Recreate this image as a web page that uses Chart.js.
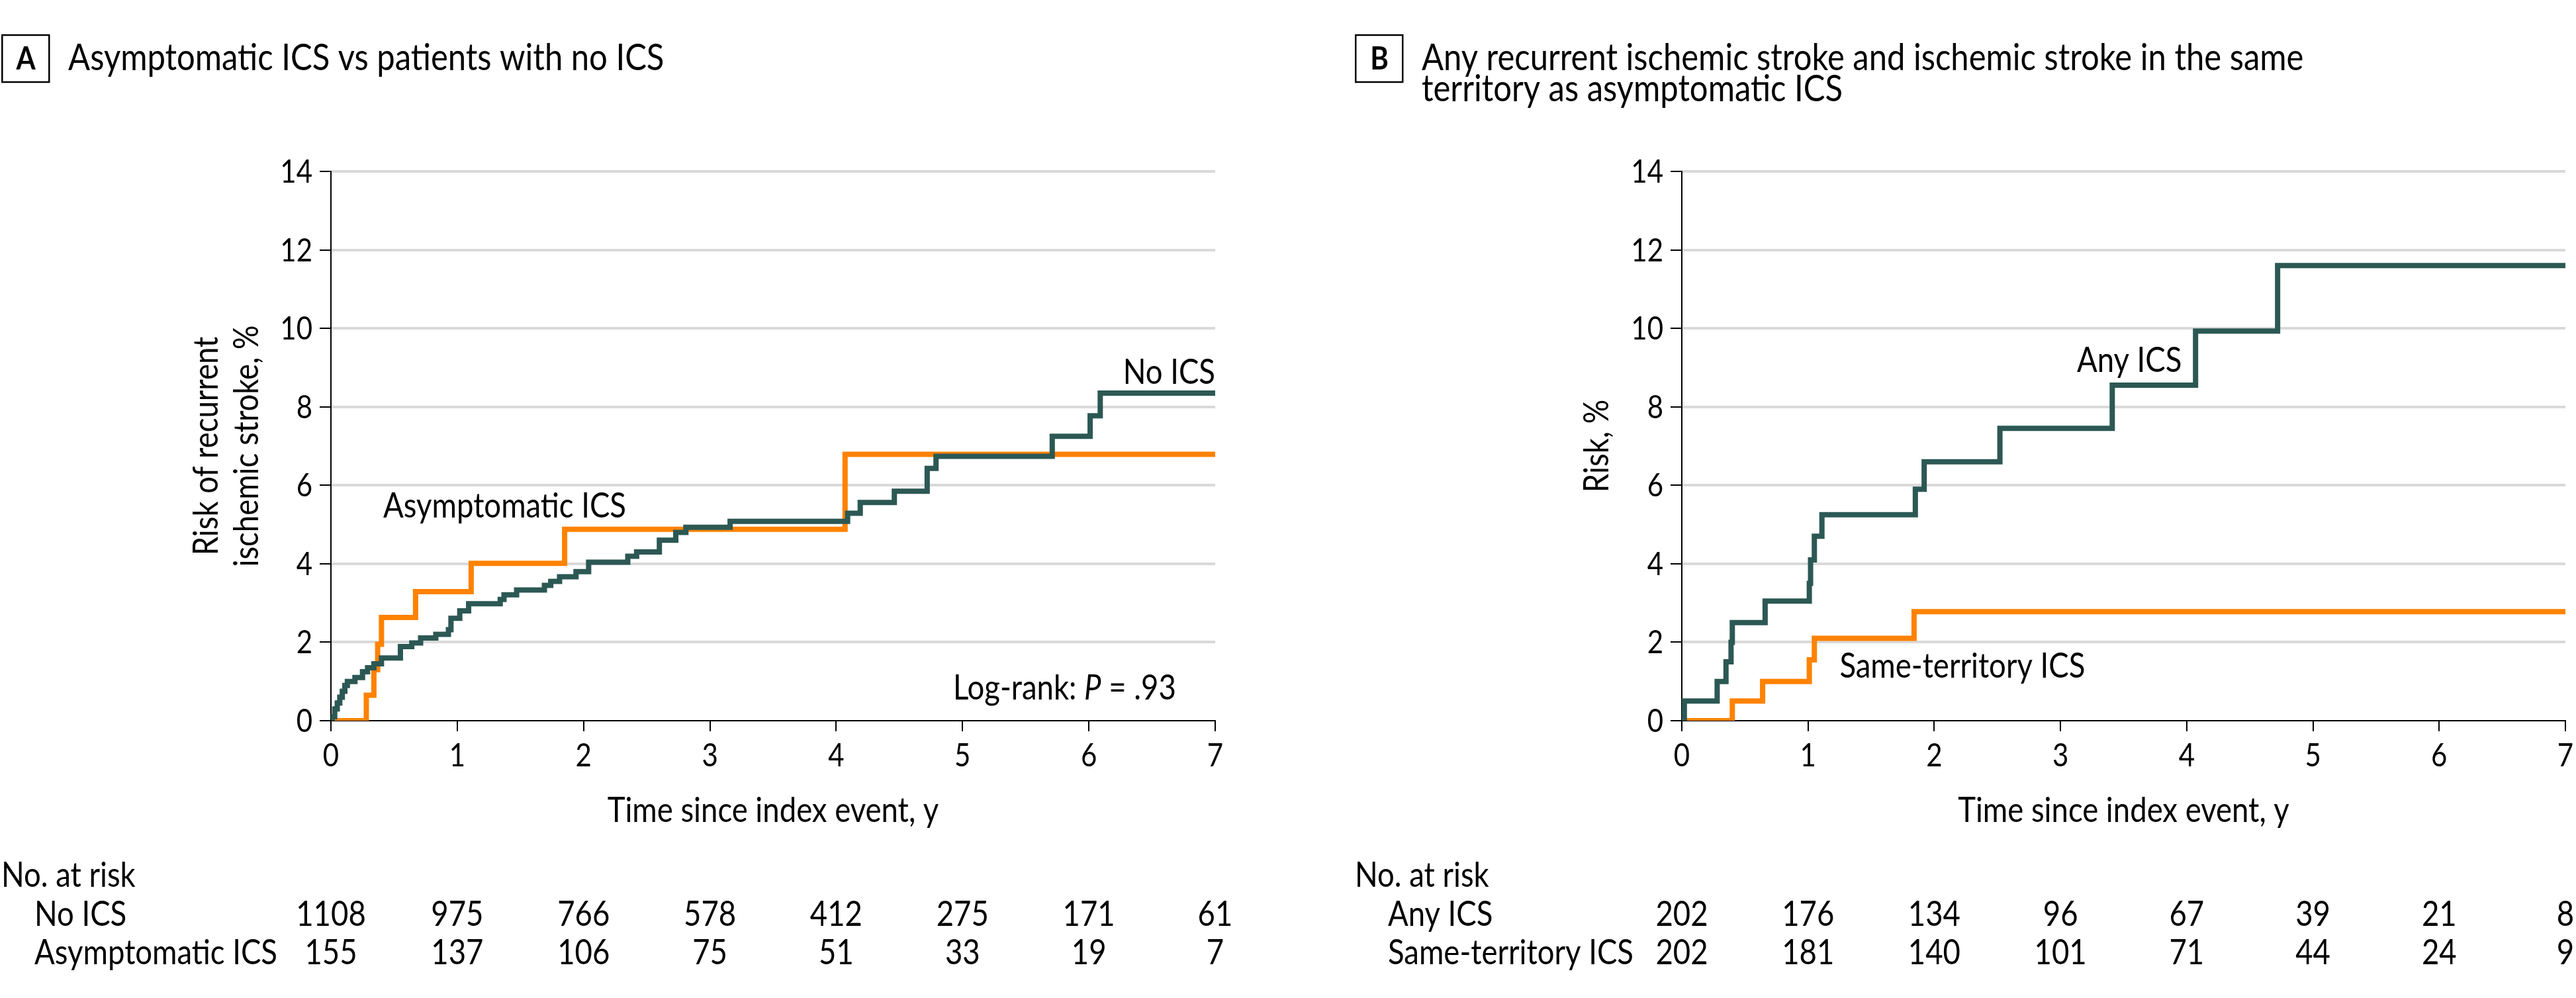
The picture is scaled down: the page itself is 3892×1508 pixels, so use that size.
<!DOCTYPE html>
<html>
<head>
<meta charset="utf-8">
<script src="https://cdn.jsdelivr.net/npm/chart.js@4.4.1/dist/chart.umd.min.js"></script>
<style>
  html, body { margin: 0; padding: 0; background: #fff; }
  #wrap { position: relative; width: 3892px; height: 1508px; overflow: hidden; }
  canvas { position: absolute; top: 0; }
</style>
</head>
<body>
<div id="wrap">
  <canvas id="chartA" width="1946" height="1508" style="left:0"></canvas>
  <canvas id="chartB" width="1946" height="1508" style="left:1946px"></canvas>
</div>
<script>
// time axis (years) used for ticks and the at-risk table
const yearTicks = [0, 1, 2, 3, 4, 5, 6, 7];

// panel A, no ICS: event times (y) and cumulative risk (%)
const noIcsTime = [0, 0.01, 0.03, 0.05, 0.07, 0.09, 0.11, 0.13, 0.19, 0.25, 0.29, 0.34, 0.40, 0.55, 0.64, 0.71,
  0.83, 0.93, 0.95, 1.02, 1.09, 1.34, 1.37, 1.47, 1.69, 1.74, 1.81, 1.94, 2.04, 2.35, 2.42, 2.60,
  2.73, 2.81, 3.16, 4.09, 4.19, 4.46, 4.72, 4.79, 5.71, 6.01, 6.09, 7.0];
const noIcsRisk = [0, 0.1, 0.3, 0.45, 0.6, 0.75, 0.9, 1.0, 1.1, 1.25, 1.35, 1.45, 1.6, 1.89, 1.98, 2.11,
  2.2, 2.32, 2.61, 2.8, 2.98, 3.09, 3.21, 3.33, 3.45, 3.55, 3.67, 3.8, 4.04, 4.19, 4.3, 4.6,
  4.8, 4.93, 5.08, 5.29, 5.56, 5.85, 6.43, 6.74, 7.25, 7.77, 8.35, 8.35];

// panel A, asymptomatic ICS
const asxTime = [0, 0.28, 0.34, 0.37, 0.40, 0.67, 1.11, 1.85, 4.07, 7.0];
const asxRisk = [0, 0.65, 1.3, 1.95, 2.63, 3.29, 4.01, 4.88, 6.79, 6.79];

// panel B, any ICS
const anyTime = [0, 0.02, 0.28, 0.35, 0.39, 0.40, 0.66, 1.01, 1.02, 1.05, 1.11, 1.85, 1.92, 2.52, 3.41, 4.07, 4.72, 7.0];
const anyRisk = [0, 0.5, 1.0, 1.5, 2.0, 2.5, 3.05, 3.5, 4.1, 4.7, 5.25, 5.9, 6.6, 7.45, 8.55, 9.93, 11.6, 11.6];

// panel B, same-territory ICS
const sameTime = [0, 0.40, 0.64, 1.01, 1.05, 1.84, 7.0];
const sameRisk = [0, 0.5, 1.0, 1.55, 2.1, 2.78, 2.78];

// numbers at risk
const atRiskNoIcs = [1108, 975, 766, 578, 412, 275, 171, 61];
const atRiskAsx = [155, 137, 106, 75, 51, 33, 19, 7];
const atRiskAny = [202, 176, 134, 96, 67, 39, 21, 8];
const atRiskSame = [202, 181, 140, 101, 71, 44, 24, 9];

const FONT = 'Lato, "Open Sans", sans-serif';
const INK = '#000';
const DARK = '#2c5854';
const ORANGE = '#ff8200';
const TXT = '52px ' + FONT;
const HEAD = '56px ' + FONT;
const TICK = '48px ' + FONT;

Chart.defaults.font.family = FONT;
Chart.defaults.color = INK;

let SX = 0.9; // horizontal squeeze, measured on the drawing canvas below

function pts(xs, ys) {
  return xs.map((x, i) => ({ x: x, y: ys[i] }));
}

function text(ctx, str, x, y, align, font, rot) {
  ctx.save();
  ctx.font = font || TXT;
  ctx.translate(x, y);
  if (rot) ctx.rotate(rot);
  ctx.scale(SX, 1);
  ctx.textAlign = align || 'left';
  ctx.textBaseline = 'alphabetic';
  ctx.fillStyle = INK;
  ctx.fillText(str, 0, 0);
  ctx.restore();
}

function width(ctx, str, font) {
  ctx.save();
  ctx.font = font;
  const w = ctx.measureText(str).width;
  ctx.restore();
  return w * SX;
}

// titles, tick labels, curve labels and the at-risk table
const panelDecor = {
  id: 'panelDecor',
  afterDraw(chart, args, o) {
    const ctx = chart.ctx;
    const xs = chart.scales.x, ys = chart.scales.y;
    const area = chart.chartArea;

    // the source typeface is narrower than Lato
    ctx.save();
    ctx.font = TXT;
    SX = 367 / ctx.measureText('Asymptomatic ICS').width;
    ctx.restore();

    ctx.save();
    ctx.strokeStyle = INK;
    ctx.lineWidth = 2.5;
    ctx.strokeRect(o.boxX + 1.25, 53, 71, 71);
    ctx.restore();
    text(ctx, o.letter, o.boxX + 37, 105, 'center', 'bold 48px ' + FONT);
    o.title.forEach((line, i) => text(ctx, line, o.boxX + 101, 106 + i * 47, 'left', HEAD));

    // tick labels
    ys.ticks.forEach(t => text(ctx, String(t.value), area.left - 28, ys.getPixelForValue(t.value) + 17, 'right', TICK));
    xs.ticks.forEach(t => text(ctx, String(t.value), xs.getPixelForValue(t.value), 1158, 'center', TICK));

    // axis titles
    const midX = (area.left + area.right) / 2, midY = (area.top + area.bottom) / 2;
    text(ctx, 'Time since index event, y', midX, 1242, 'center');
    o.yTitle.forEach((line, i) => text(ctx, line, o.yTitleX[i], midY, 'center', TXT, -Math.PI / 2));

    // curve labels
    o.labels.forEach(l => text(ctx, l.text, xs.getPixelForValue(l.x), ys.getPixelForValue(l.y), l.align));

    if (o.logrank) {
      const lr = o.logrank;
      const a = 'Log-rank: ', b = 'P', c = ' = .93';
      const wa = width(ctx, a, TXT), wb = width(ctx, b, 'italic ' + TXT), wc = width(ctx, c, TXT);
      const px = xs.getPixelForValue(lr.x) - (wa + wb + wc);
      const py = ys.getPixelForValue(lr.y);
      text(ctx, a, px, py, 'left');
      text(ctx, b, px + wa, py, 'left', 'italic ' + TXT);
      text(ctx, c, px + wa + wb, py, 'left');
    }

    text(ctx, 'No. at risk', o.boxX, 1340, 'left');
    o.rows.forEach((r, i) => {
      const by = 1399 + i * 58;
      text(ctx, r.name, o.boxX + 50, by, 'left');
      r.values.forEach((v, j) => text(ctx, String(v), xs.getPixelForValue(yearTicks[j]), by, 'center'));
    });
  }
};

function makeChart(id, datasets, yLeft, yWidth, padRight, decor) {
  return new Chart(document.getElementById(id), {
    type: 'line',
    data: { datasets: datasets },
    options: {
      responsive: false,
      animation: false,
      layout: { padding: { left: yLeft, right: padRight, top: 259, bottom: 255 } },
      elements: { point: { radius: 0 }, line: { tension: 0 } },
      plugins: { legend: { display: false }, tooltip: { enabled: false }, panelDecor: decor },
      scales: {
        x: {
          type: 'linear', min: 0, max: 7,
          ticks: { stepSize: 1, display: false },
          grid: { drawOnChartArea: false, color: INK, lineWidth: 2, tickColor: INK, tickWidth: 2, tickLength: 16 },
          border: { color: INK, width: 2 },
          afterFit: s => { s.height = 164; }
        },
        y: {
          min: 0, max: 14,
          ticks: { stepSize: 2, display: false },
          grid: {
            color: c => (c.tick && c.tick.value === 0) ? 'rgba(0,0,0,0)' : '#d9d9d9',
            lineWidth: 4, tickColor: INK, tickWidth: 2, tickLength: 17
          },
          border: { color: INK, width: 2 },
          afterFit: s => { s.width = yWidth; }
        }
      }
    },
    plugins: [panelDecor]
  });
}

function curve(label, data, color) {
  return { label: label, data: data, borderColor: color, borderWidth: 8, stepped: 'before',
    pointRadius: 0, fill: false, borderJoinStyle: 'miter', borderCapStyle: 'butt' };
}

makeChart('chartA', [
  curve('No ICS', pts(noIcsTime, noIcsRisk), DARK),
  curve('Asymptomatic ICS', pts(asxTime, asxRisk), ORANGE)
], 280, 220, 110, {
  letter: 'A', boxX: 2,
  title: ['Asymptomatic ICS vs patients with no ICS'],
  yTitle: ['Risk of recurrent', 'ischemic stroke, %'],
  yTitleX: [329, 390],
  labels: [
    { text: 'No ICS', x: 7.0, y: 8.58, align: 'right' },
    { text: 'Asymptomatic ICS', x: 0.414, y: 5.18, align: 'left' }
  ],
  logrank: { x: 6.69, y: 0.54 },
  rows: [
    { name: 'No ICS', values: atRiskNoIcs },
    { name: 'Asymptomatic ICS', values: atRiskAsx }
  ]
});

makeChart('chartB', [
  curve('Any ICS', pts(anyTime, anyRisk), DARK),
  curve('Same-territory ICS', pts(sameTime, sameRisk), ORANGE)
], 435, 160, 16, {
  letter: 'B', boxX: 101,
  title: ['Any recurrent ischemic stroke and ischemic stroke in the same', 'territory as asymptomatic ICS'],
  yTitle: ['Risk, %'],
  yTitleX: [484],
  labels: [
    { text: 'Any ICS', x: 3.13, y: 8.89, align: 'left' },
    { text: 'Same-territory ICS', x: 1.25, y: 1.10, align: 'left' }
  ],
  logrank: null,
  rows: [
    { name: 'Any ICS', values: atRiskAny },
    { name: 'Same-territory ICS', values: atRiskSame }
  ]
});
</script>
</body>
</html>
